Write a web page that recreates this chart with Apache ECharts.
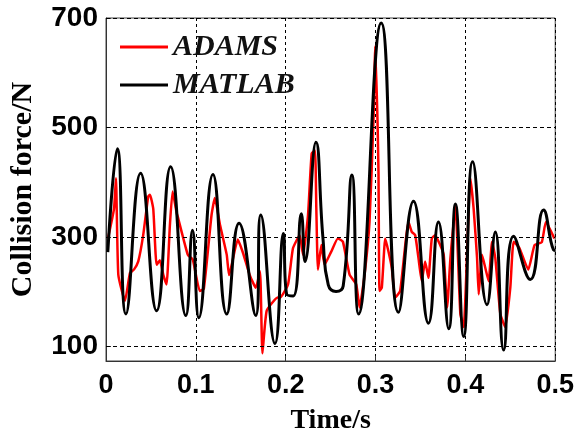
<!DOCTYPE html>
<html>
<head>
<meta charset="utf-8">
<script src="https://cdn.jsdelivr.net/npm/echarts@6/dist/echarts.min.js"></script>
<style>
  html, body { margin: 0; padding: 0; background: #fff; }
  #chart { width: 577px; height: 440px; }
</style>
</head>
<body>
<div id="chart"></div>
<script>
// Collision force history: ADAMS simulation vs MATLAB model
const seriesNames = ['ADAMS', 'MATLAB'];

const adamsTime = [0.0022, 0.0089, 0.0111, 0.0137, 0.0211, 0.0267, 0.0311, 0.0359, 0.0414, 0.0470,
  0.0489, 0.0526, 0.0563, 0.0600, 0.0637, 0.0674, 0.0711, 0.0741, 0.0786, 0.0800,
  0.0911, 0.0967, 0.1044, 0.1089, 0.1174, 0.1211, 0.1270, 0.1344, 0.1370, 0.1467,
  0.1526, 0.1600, 0.1667, 0.1714, 0.1741, 0.1789, 0.1911, 0.1937, 0.2026, 0.2081,
  0.2156, 0.2193, 0.2248, 0.2289, 0.2326, 0.2341, 0.2359, 0.2397, 0.2433, 0.2507,
  0.2581, 0.2637, 0.2711, 0.2785, 0.2822, 0.2878, 0.2933, 0.2978, 0.2997, 0.3022,
  0.3033, 0.3044, 0.3070, 0.3108, 0.3144, 0.3181, 0.3219, 0.3274, 0.3367, 0.3403,
  0.3441, 0.3478, 0.3514, 0.3552, 0.3589, 0.3626, 0.3663, 0.3719, 0.3759, 0.3797,
  0.3833, 0.3889, 0.3944, 0.3981, 0.4056, 0.4092, 0.4130, 0.4148, 0.4185, 0.4222,
  0.4259, 0.4297, 0.4333, 0.4389, 0.4444, 0.4500, 0.4537, 0.4600, 0.4700, 0.4770,
  0.4850, 0.4896, 0.4990];
const adamsForce = [297, 351, 407, 231, 183, 234, 240, 255, 303, 374,
  377, 351, 249, 257, 231, 213, 321, 383, 344, 336,
  267, 258, 201, 205, 339, 371, 321, 267, 230, 295,
  270, 230, 207, 237, 87, 165, 189, 189, 213, 279,
  303, 267, 339, 452, 458, 351, 240, 285, 249, 273,
  297, 291, 231, 213, 171, 231, 327, 518, 649, 512,
  416, 201, 207, 297, 273, 243, 189, 201, 327, 309,
  303, 261, 219, 255, 225, 297, 303, 285, 267, 171,
  260, 356, 159, 135, 407, 351, 261, 195, 267, 243,
  219, 291, 261, 159, 135, 207, 291, 280, 240, 285,
  290, 327, 297];

const matlabTime = [0.0020, 0.0126, 0.0222, 0.0385, 0.0563, 0.0719, 0.0889, 0.0963, 0.1033, 0.1190,
  0.1344, 0.1481, 0.1667, 0.1722, 0.1881, 0.1974, 0.2011, 0.2085, 0.2174, 0.2215,
  0.2337, 0.2415, 0.2474, 0.2560, 0.2640, 0.2737, 0.2811, 0.3063, 0.3256, 0.3422,
  0.3589, 0.3700, 0.3815, 0.3889, 0.3981, 0.4081, 0.4241, 0.4333, 0.4426, 0.4537,
  0.4722, 0.4870, 0.4981, 0.5000];
const matlabForce = [272, 461, 159, 416, 165, 428, 156, 312, 152, 414,
  159, 325, 156, 340, 105, 306, 195, 192, 342, 255,
  473, 297, 212, 200, 210, 413, 159, 691, 162, 365,
  142, 327, 132, 360, 118, 437, 176, 309, 93, 301,
  222, 349, 276, 275];

// Axis ticks and reference lines
const timeTicks = [0, 0.1, 0.2, 0.3, 0.4, 0.5];
const forceTicks = [100, 300, 500, 700];
const forceGridLines = [100, 300, 500, 700];

const pairs = (xs, ys) => xs.map((x, i) => [x, ys[i]]);

const chart = echarts.init(document.getElementById('chart'), null, { renderer: 'canvas' });

const labelFont = { fontFamily: 'Liberation Sans, Arial, sans-serif', fontWeight: 'bold', color: '#000' };
const serifBold = { fontFamily: 'Liberation Serif, Times New Roman, serif', fontWeight: 'bold', color: '#000' };

chart.setOption({
  animation: false,
  backgroundColor: '#fff',
  grid: {
    left: 105, right: 20, top: 18, bottom: 72,
    show: true, borderColor: '#444', borderWidth: 1, backgroundColor: 'transparent'
  },
  legend: {
    data: seriesNames,
    orient: 'vertical',
    left: 115, top: 27,
    itemWidth: 48, itemHeight: 3, itemGap: 8,
    icon: 'rect',
    textStyle: {
      fontFamily: 'Liberation Serif, Times New Roman, serif',
      fontStyle: 'italic', fontWeight: 'bold', fontSize: 30, color: '#111'
    }
  },
  xAxis: {
    type: 'value',
    min: timeTicks[0], max: timeTicks[timeTicks.length - 1], interval: 0.1,
    name: 'Time/s',
    nameLocation: 'middle', nameGap: 46,
    nameTextStyle: Object.assign({ fontSize: 28 }, serifBold),
    axisLine: { show: true, lineStyle: { color: '#333', width: 1 } },
    axisTick: { show: true, inside: true, length: 5, lineStyle: { color: '#333' } },
    axisLabel: Object.assign({
      fontSize: 27, margin: 11,
      formatter: v => (v === 0 ? '0' : v.toFixed(1))
    }, labelFont),
    splitLine: { show: true, lineStyle: { color: '#000', type: [3, 3], width: 1 } }
  },
  yAxis: {
    type: 'value',
    min: 73, max: 700,
    name: 'Collision force/N',
    nameLocation: 'middle', nameGap: 68, nameRotate: 90,
    nameTextStyle: Object.assign({ fontSize: 30 }, serifBold),
    axisLine: { show: true, lineStyle: { color: '#333', width: 1 } },
    axisTick: { show: true, inside: true, length: 5, customValues: forceTicks, lineStyle: { color: '#333' } },
    axisLabel: Object.assign({ fontSize: 28, margin: 8, customValues: forceTicks }, labelFont),
    splitLine: { show: false }
  },
  series: [
    {
      name: 'grid',
      type: 'line',
      data: [],
      silent: true,
      z: 1,
      markLine: {
        silent: true,
        symbol: 'none',
        label: { show: false },
        lineStyle: { color: '#000', type: [4, 3], width: 1 },
        data: forceGridLines.map(v => ({ yAxis: v }))
      }
    },
    {
      name: seriesNames[0],
      type: 'line',
      data: pairs(adamsTime, adamsForce),
      showSymbol: false,
      smooth: 0.15,
      z: 2,
      itemStyle: { color: '#ff0000' },
      lineStyle: { color: '#ff0000', width: 2.5 }
    },
    {
      name: seriesNames[1],
      type: 'line',
      data: pairs(matlabTime, matlabForce),
      showSymbol: false,
      smooth: 0.5,
      z: 3,
      itemStyle: { color: '#000' },
      lineStyle: { color: '#000', width: 3 }
    }
  ]
});
</script>
</body>
</html>
